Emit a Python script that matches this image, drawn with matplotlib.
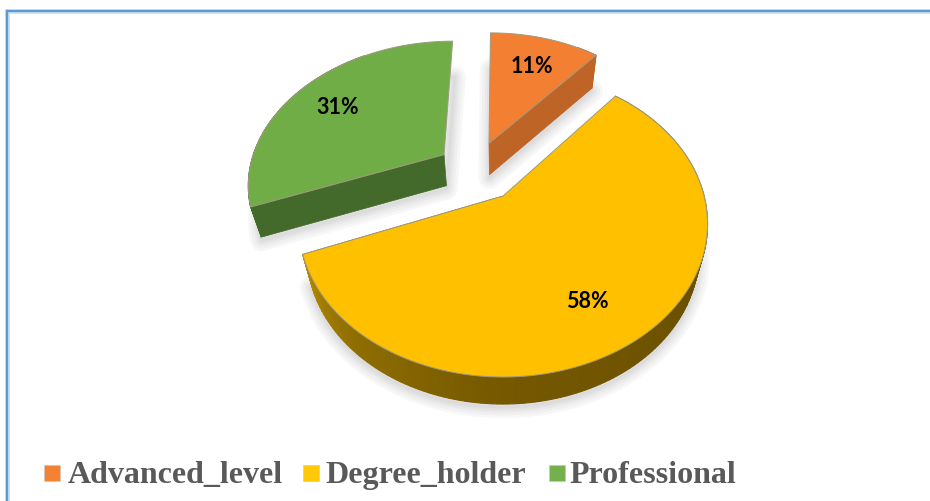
"""
Exploded 3D pie of qualification shares, drawn with polygons in pixel space.
The disc is projected with a simple perspective so the wedges follow the shares.
"""

import numpy as np
import matplotlib
matplotlib.use("Agg")
import matplotlib.pyplot as plt
from matplotlib.colors import to_rgb
from matplotlib.patches import Polygon, Rectangle

CATEGORIES = ["Advanced_level", "Degree_holder", "Professional"]
SHARES = [11, 58, 31]
LABELS = ["11%", "58%", "31%"]

TOP_COLORS = ["#F27F32", "#FFC000", "#70AD47"]
CUT_COLORS = ["#BE6426", "#8A6A00", "#43692B"]
LEGEND_COLORS = ["#F58233", "#FFC90A", "#74B04B"]
SIDE_STOPS = [(-165, "#B98F00"), (-130, "#8F6E00"), (-90, "#755800"), (-30, "#6B5000"), (0, "#8F6E00")]

WIDTH, HEIGHT = 930, 501
ORIGIN = (500, 197)
SCALE_X, SCALE_Y, PERSP = 201.0, 147.9, 0.183
EXPLODE = 0.215
CENTER = (-0.126, 0.174)
LABEL_R = [0.70, 0.72, 0.66]

# ajustes finos en pixeles
WEDGE_NUDGE = [(-1, -1.5), (3, -1), (2, -1)]
LABEL_NUDGE = [(1, -2), (-8, 8), (-10, -2)]

LEGEND_BOX_X = [44, 303, 549]
LEGEND_TEXT_X = [68, 325.5, 569.5]


def project(u, v):
    """Top face of the pie: disc coordinates to pixels."""
    w = 1 + PERSP * v
    return ORIGIN[0] + SCALE_X * u / w, ORIGIN[1] - SCALE_Y * v / w


def lower(x, y):
    """Same point on the lower face of the pie."""
    return ORIGIN[0] + (x - ORIGIN[0]) * 0.957, y * 0.9815 + 34


def wedge_geometry():
    """Apex (disc coords) and start/end angles for each wedge, clockwise from 12 o'clock."""
    out = []
    start = 90.0
    total = float(sum(SHARES))
    for share in SHARES:
        end = start - 360.0 * share / total
        mid = np.radians((start + end) / 2)
        apex = (CENTER[0] + EXPLODE * np.cos(mid), CENTER[1] + EXPLODE * np.sin(mid))
        out.append((apex, start, end, mid))
        start = end
    return out


def arc_points(apex, start, end):
    th = np.radians(np.linspace(start, end, 160))
    return project(apex[0] + np.cos(th), apex[1] + np.sin(th)), th


def side_color(deg):
    deg = ((deg + 180) % 360) - 180
    stops = [s[0] for s in SIDE_STOPS]
    rgb = np.array([to_rgb(s[1]) for s in SIDE_STOPS])
    return tuple(np.interp(deg, stops, rgb[:, i]) for i in range(3))


def draw_shadow(ax, xs, ys):
    poly = np.column_stack(lower(np.array(xs), np.array(ys)))
    poly[:, 1] += 3
    for lw in [16, 12, 8, 5, 2]:
        ax.add_patch(Polygon(poly, closed=True, fc="none", ec="#808080", lw=lw, alpha=0.06,
                             joinstyle="round", zorder=1))


def draw_wedge(ax, geom, top, cut, nudge):
    apex, start, end, _ = geom
    ax_x, ax_y = project(*apex)
    (xs, ys), th = arc_points(apex, start, end)
    ax_x, ax_y = ax_x + nudge[0], ax_y + nudge[1]
    xs, ys = xs + nudge[0], ys + nudge[1]
    all_x = np.r_[ax_x, xs]
    all_y = np.r_[ax_y, ys]

    draw_shadow(ax, all_x, all_y)

    # solo la cara de corte que mira al frente
    k = 0 if ys[0] > ys[-1] else -1
    bx0, by0 = lower(xs[k], ys[k])
    bax, bay = lower(ax_x, ax_y)
    ax.add_patch(Polygon([(ax_x, ax_y), (xs[k], ys[k]), (bx0, by0), (bax, bay)],
                         fc=cut, ec=cut, lw=0.5, zorder=2))

    # cara exterior, por tramos para el degradado
    bx, by = lower(xs, ys)
    for i in range(len(xs) - 1):
        if np.sin(th[i]) > 0.85:  # la parte de atras no se ve
            continue
        deg = np.degrees(th[i])
        col = side_color(deg) if top == "#FFC000" else cut
        ax.add_patch(Polygon([(xs[i], ys[i]), (xs[i + 1], ys[i + 1]), (bx[i + 1], by[i + 1]), (bx[i], by[i])],
                             fc=col, ec=col, lw=0.8, zorder=3))

    ax.add_patch(Polygon(np.column_stack([all_x, all_y]), closed=True, fc=top, ec="#A09A80", lw=0.7,
                         joinstyle="round", zorder=4))


def main():
    fig = plt.figure(figsize=(WIDTH / 100, HEIGHT / 100), dpi=100)
    ax = fig.add_axes([0, 0, 1, 1])
    ax.set_xlim(0, WIDTH)
    ax.set_ylim(HEIGHT, 0)
    ax.axis("off")

    # marco azul
    ax.plot([7, 7, WIDTH], [HEIGHT, 11, 11], color="#C9DDF0", lw=3.4, solid_joinstyle="miter", zorder=0)
    ax.plot([7, 7, WIDTH], [HEIGHT, 11, 11], color="#5B9BD5", lw=1.6, solid_joinstyle="miter", zorder=0)

    geoms = wedge_geometry()
    for i in [2, 0, 1]:
        draw_wedge(ax, geoms[i], TOP_COLORS[i], CUT_COLORS[i], WEDGE_NUDGE[i])

    for i, geom in enumerate(geoms):
        apex, _, _, mid = geom
        x, y = project(apex[0] + LABEL_R[i] * np.cos(mid), apex[1] + LABEL_R[i] * np.sin(mid))
        ax.text(x + LABEL_NUDGE[i][0], y + LABEL_NUDGE[i][1], LABELS[i], ha="center", va="center",
                fontsize=15.5, fontweight="bold", family="Lato", color="black", zorder=6)

    for i, name in enumerate(CATEGORIES):
        ax.add_patch(Rectangle((LEGEND_BOX_X[i], 465), 16, 16, fc=LEGEND_COLORS[i], ec="#C8C8C8", lw=0.4))
        ax.text(LEGEND_TEXT_X[i], 483, name, ha="left", va="baseline", fontsize=23, fontweight="bold",
                family="Liberation Serif", color="#595959")

    fig.savefig("out.png", dpi=100, facecolor="white")
    plt.close(fig)


if __name__ == "__main__":
    main()
